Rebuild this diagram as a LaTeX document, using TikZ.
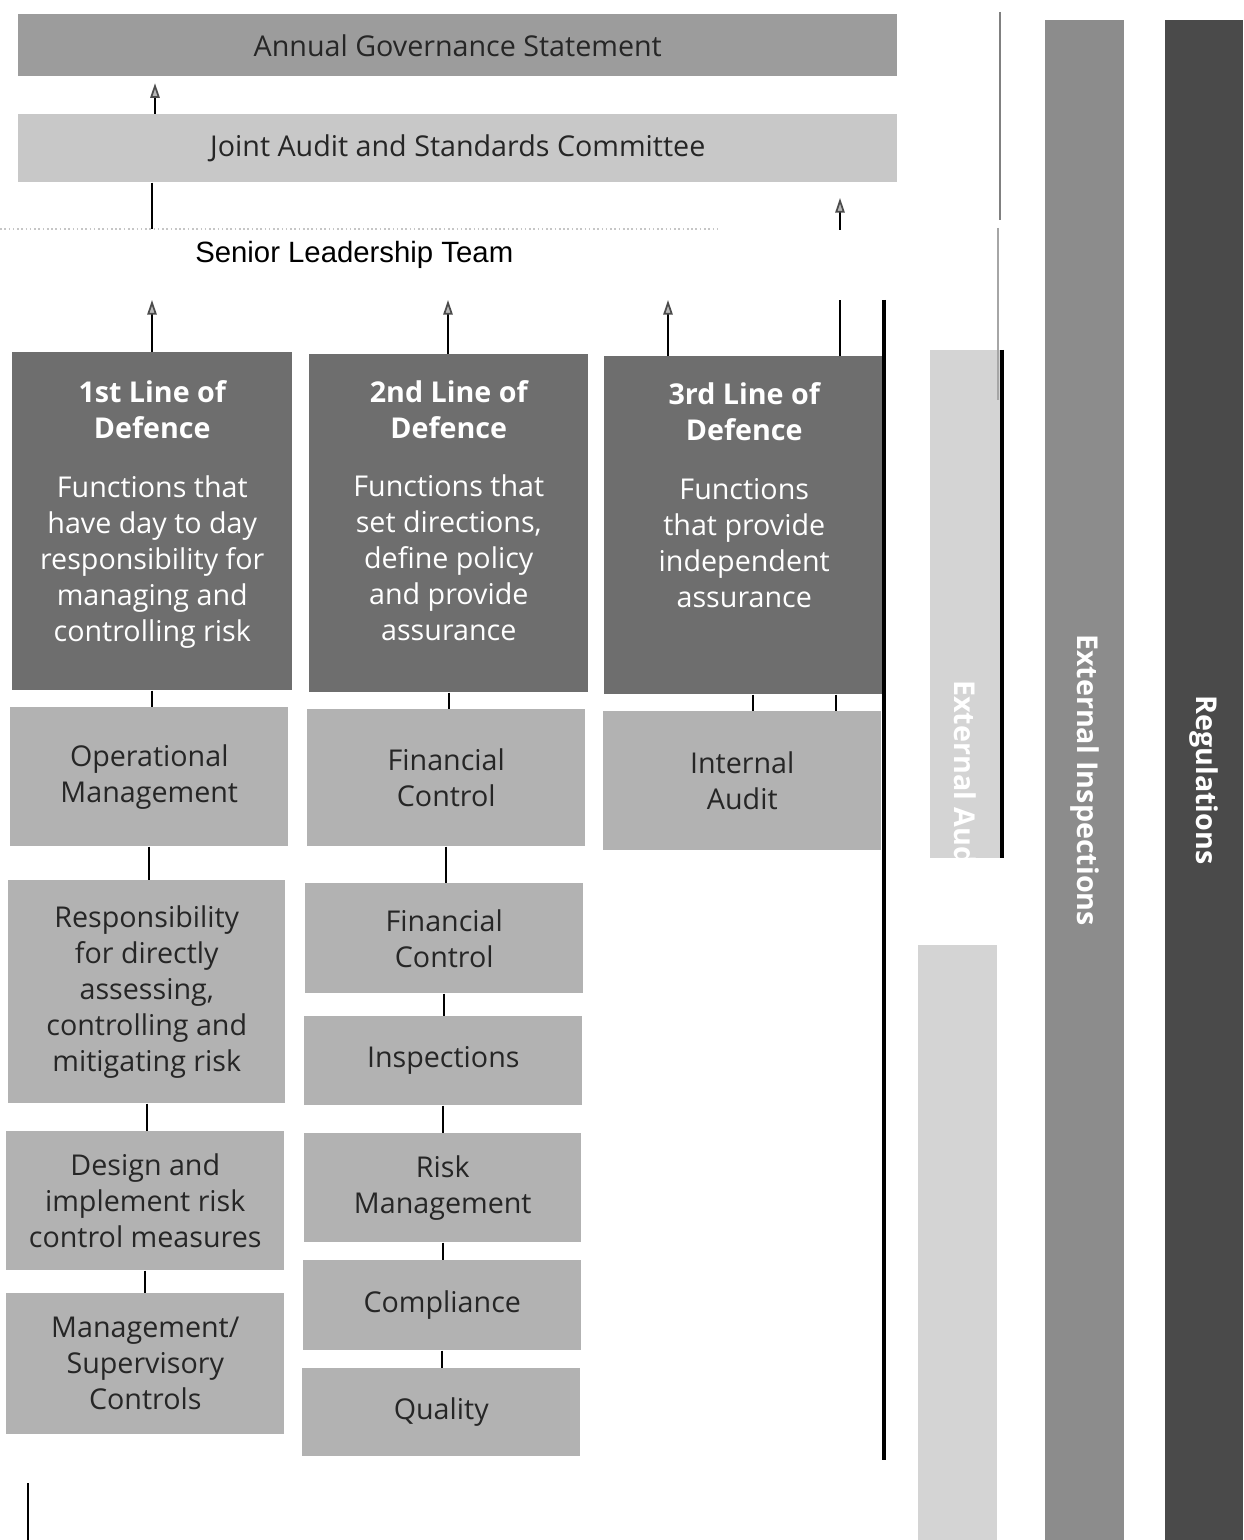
\documentclass[tikz,border=0pt]{standalone}
\usepackage{fontspec}
\setmainfont{Open Sans}
\newfontfamily\arialfont{Liberation Sans}
\usetikzlibrary{arrows.meta}

\definecolor{agsgray}{HTML}{9C9C9C}
\definecolor{jascgray}{HTML}{C8C8C8}
\definecolor{linegray}{HTML}{6E6E6E}
\definecolor{boxgray}{HTML}{B2B2B2}
\definecolor{audgray}{HTML}{D4D4D4}
\definecolor{insgray}{HTML}{8C8C8C}
\definecolor{reggray}{HTML}{4A4A4A}

\begin{document}
\begin{tikzpicture}[x=0.75pt,y=0.75pt,yscale=-1,xscale=1,
  sz/.style 2 args={minimum width=#1*0.75pt,minimum height=#2*0.75pt},
  band/.style={anchor=north west,inner sep=0pt,align=center,font=\fontsize{21.5}{27}\selectfont},
  topbar/.style={band,fill=agsgray,text=black!85},
  midbar/.style={band,fill=jascgray,text=black!85},
  linebox/.style={band,fill=linegray,text=white},
  subbox/.style={band,fill=boxgray,text=black!85},
  vbar/.style={rotate=-90,inner sep=0pt,text=white,font=\bfseries\fontsize{21.5}{27}\selectfont},
  link/.style={draw=black,line width=1.3pt},
  upar/.style={link,-{Triangle[width=7pt,length=11pt,fill=gray!55,color=black!70]}}]

\useasboundingbox (0,0) rectangle (1243,1540);

% reporting bands
\node[topbar, sz={879}{62}] (ags) at (18,14) {Annual Governance Statement};
\node[midbar, sz={879}{68}] (jasc) at (18,114) {Joint Audit and Standards Committee};
\node[anchor=west, inner sep=0pt, font=\arialfont\fontsize{22}{26}\selectfont] (slt) at (195,255) {Senior Leadership Team};
\draw[dotted, gray!45, line width=1.2pt] (0,229) -- (720,229);

% three lines of defence
\node[linebox, sz={280}{338}] (l1) at (12,352) {{\bfseries 1st Line of}\\{\bfseries Defence}\\[17pt]Functions that\\have day to day\\responsibility for\\managing and\\controlling risk\\[-12pt]};
\node[linebox, sz={279}{338}] (l2) at (309,354) {{\bfseries 2nd Line of}\\{\bfseries Defence}\\[17pt]Functions that\\set directions,\\define policy\\and provide\\assurance\\[-8pt]};
\node[linebox, sz={280}{338}] (l3) at (604,356) {{\bfseries 3rd Line of}\\{\bfseries Defence}\\[17pt]Functions\\that provide\\independent\\assurance\\[18pt]};

\node[subbox, sz={278}{139}] (opm) at (10,707) {Operational\\Management};
\node[subbox, sz={278}{137}] (fc1) at (307,709) {Financial\\Control};
\node[subbox, sz={278}{139}] (ia) at (603,711) {Internal\\Audit};

% first line column
\node[subbox, sz={277}{223}] (resp) at (8,880) {Responsibility\\for directly\\assessing,\\controlling and\\mitigating risk};
\node[subbox, sz={278}{139}] (design) at (6,1131) {Design and\\implement risk\\control measures};
\node[subbox, sz={278}{141}] (mgmt) at (6,1293) {Management/\\Supervisory\\Controls};

% second line column
\node[subbox, sz={278}{110}] (fc2) at (305,883) {Financial\\Control};
\node[subbox, sz={278}{89}] (insp) at (304,1016) {Inspections};
\node[subbox, sz={277}{109}] (risk) at (304,1133) {Risk\\Management};
\node[subbox, sz={278}{90}] (comp) at (303,1260) {Compliance};
\node[subbox, sz={278}{88}] (qual) at (302,1368) {Quality};

% external bars
\node[anchor=north west, inner sep=0pt, fill=audgray, sz={70}{508}] (extaud) at (930,350) {};
\begin{scope}
  \clip (extaud.north west) rectangle (extaud.south east);
  \node[vbar, anchor=west] (extaudtxt) at (965,680) {External Audit};
\end{scope}
\node[anchor=north west, inner sep=0pt, fill=audgray, sz={79}{595}] (extaud2) at (918,945) {};
\node[vbar, fill=insgray, sz={1520}{79}] (extinsp) at (1084.5,780) {External Inspections};
\node[vbar, fill=reggray, sz={1520}{78}] (regs) at (1204,780) {Regulations};

% free ends
\coordinate (sltL) at (152,229);
\coordinate (t1) at (152,300);
\coordinate (t2) at (448,300);
\coordinate (t3) at (668,300);
\coordinate (t4) at (840,300);
\coordinate (sltR) at (840,230);
\coordinate (jascR) at (840,198);

% connectors
\draw[upar, shorten >=5pt] (155,0 |- jasc.north) -- (155,0 |- ags.south);
\draw[link] (152,0 |- jasc.south) -- (sltL);
\draw[upar] (sltR) -- (jascR);
\draw[upar] (152,0 |- l1.north) -- (t1);
\draw[upar] (448,0 |- l2.north) -- (t2);
\draw[upar] (668,0 |- l3.north) -- (t3);
\draw[link] (840,0 |- l3.north) -- (t4);
\foreach \a/\b in {l1/opm,opm/resp,resp/design,design/mgmt,l2/fc1,fc1/fc2,fc2/insp,insp/risk,risk/comp,comp/qual}
  \draw[link] (\a.south) -- (\a.south |- \b.north);
\draw[link] (753,0 |- l3.south) -- (753,0 |- ia.north);
\draw[link] (836,0 |- l3.south) -- (836,0 |- ia.north);

% rules
\draw[line width=3pt] (884,300) -- (884,1460);
\draw[line width=3pt] (1002,350) -- (1002,858);
\draw[gray, line width=0.9pt] (1000,12) -- (1000,220);
\draw[gray!70, line width=0.9pt] (998,228) -- (998,400);
\draw[line width=2.2pt] (28,1483) -- (28,1540);

\end{tikzpicture}
\end{document}
